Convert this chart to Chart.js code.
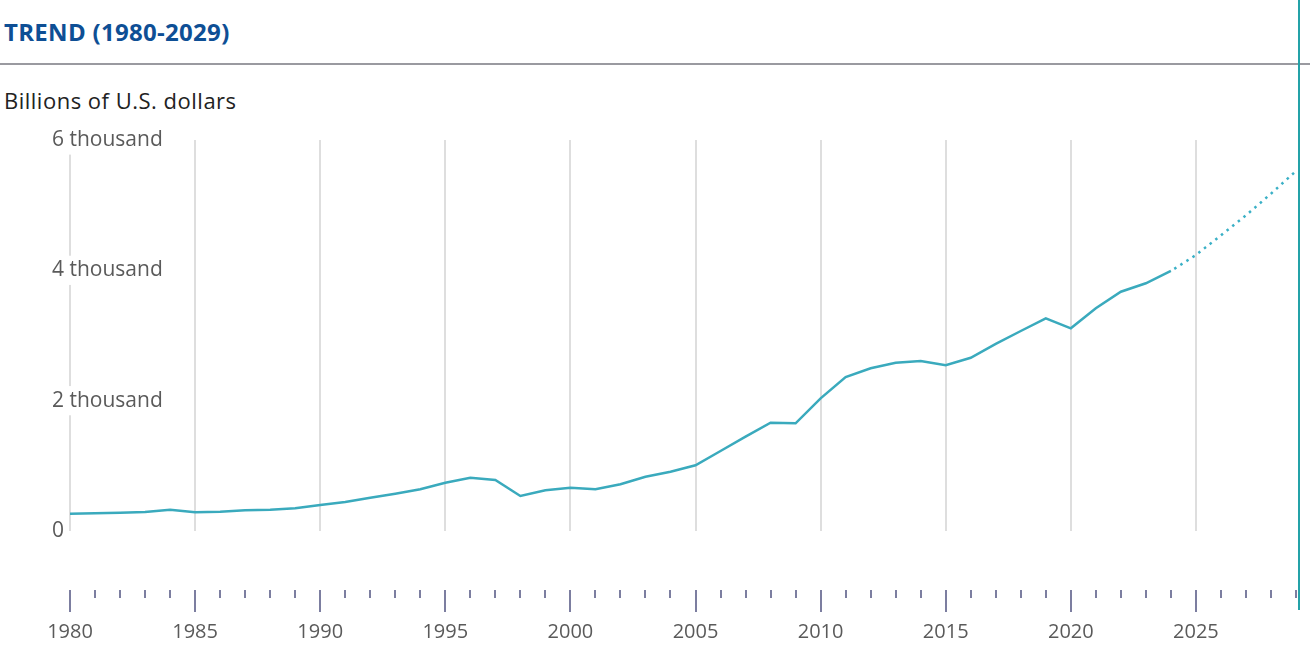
<!DOCTYPE html>
<html>
<head>
<meta charset="utf-8">
<script src="https://cdn.jsdelivr.net/npm/chart.js@4.4.1/dist/chart.umd.min.js"></script>
<style>
  body { margin: 0; background: #fff; font-family: "Open Sans", Lato, sans-serif; }
  #wrap { position: relative; width: 1310px; height: 660px; overflow: hidden; }
  #titulo { position: absolute; left: 4px; top: 18px; font-size: 24px; font-weight: 700; letter-spacing: 0.3px; color: #0e4f95; line-height: 1.2; white-space: nowrap; }
  #regua { position: absolute; left: 0; top: 63px; width: 1310px; height: 2px; background: #9a9aa0; }
  #subtitulo { position: absolute; left: 4px; top: 87px; font-size: 22px; letter-spacing: 0.5px; color: #222; line-height: 1.2; white-space: nowrap; }
  #marcador { position: absolute; left: 1298px; top: 0; width: 2px; height: 610px; background: #24a2a8; }
  #grafico { position: absolute; left: 0; top: 0; }
</style>
</head>
<body>
<div id="wrap">
  <div id="titulo">TREND (1980-2029)</div>
  <div id="regua"></div>
  <div id="subtitulo">Billions of U.S. dollars</div>
  <div id="marcador"></div>
  <canvas id="grafico" width="1310" height="660"></canvas>
</div>
<script>
// Anos e valores (bilhões de US$)
const anos = [1980, 1981, 1982, 1983, 1984, 1985, 1986, 1987, 1988, 1989,
              1990, 1991, 1992, 1993, 1994, 1995, 1996, 1997, 1998, 1999,
              2000, 2001, 2002, 2003, 2004, 2005, 2006, 2007, 2008, 2009,
              2010, 2011, 2012, 2013, 2014, 2015, 2016, 2017, 2018, 2019,
              2020, 2021, 2022, 2023, 2024];
const valores = [265, 272, 281, 292, 327, 287, 296, 318, 327, 348,
                 399, 445, 511, 572, 640, 741, 818, 783, 537, 625,
                 664, 640, 717, 833, 910, 1008, 1228, 1447, 1662, 1653,
                 2036, 2363, 2497, 2583, 2609, 2543, 2659, 2870, 3069, 3264,
                 3110, 3417, 3672, 3801, 3990];

// Projeção (linha pontilhada)
const anosProjecao = [2024, 2025, 2026, 2027, 2028, 2029];
const valoresProjecao = [3990, 4235, 4537, 4844, 5176, 5524];

const anoInicial = 1980;
const anoFinal = 2029;

const corLinha = "#3aaabd";
const corTraco = "#7c7ea0";

// Desenha os traços do eixo X (anuais e a cada 5 anos)
const tracosEixo = {
    id: "tracosEixo",
    afterDraw(chart) {
        const eixo = chart.scales.x;
        const ctx = chart.ctx;
        ctx.save();
        ctx.fillStyle = corTraco;
        for (let ano = anoInicial; ano <= anoFinal; ano++) {
            const px = Math.round(eixo.getPixelForValue(ano));
            const grande = ano % 5 === 0;
            ctx.fillRect(px - 1, eixo.top + 59, 2, grande ? 22 : 8);
        }
        ctx.restore();
    }
};

const ctx = document.getElementById("grafico").getContext("2d");

window.grafico = new Chart(ctx, {
    type: "line",
    data: {
        datasets: [{
            label: "Valor",
            data: anos.map((a, i) => ({ x: a, y: valores[i] })),
            borderColor: corLinha,
            borderWidth: 2.5,
            pointRadius: 0,
            tension: 0
        }, {
            label: "Projeção",
            data: anosProjecao.map((a, i) => ({ x: a, y: valoresProjecao[i] })),
            borderColor: "#3ab0c6",
            borderWidth: 2.5,
            borderDash: [2.5, 4.7],
            borderDashOffset: -4,
            pointRadius: 0,
            tension: 0
        }]
    },
    options: {
        responsive: false,
        animation: false,
        layout: { padding: { left: 70, top: 140, right: 14, bottom: 17 } },
        plugins: {
            legend: { display: false },
            tooltip: { enabled: false }
        },
        scales: {
            x: {
                type: "linear",
                min: anoInicial,
                max: anoFinal,
                border: { display: false },
                grid: { color: "#dedede", lineWidth: 2, drawTicks: false },
                afterFit: (s) => { s.height = 112; s.paddingLeft = 0; s.paddingRight = 0; },
                ticks: {
                    stepSize: 5,
                    includeBounds: false,
                    padding: 89,
                    color: "#5a5a5a",
                    font: { family: "Open Sans", size: 20 },
                    maxRotation: 0,
                    callback: (v) => String(v)
                }
            },
            y: {
                min: 0,
                max: 6000,
                border: { display: false },
                grid: { display: false },
                afterFit: (s) => { s.width = 0; s.paddingTop = 0; s.paddingBottom = 0; },
                ticks: {
                    stepSize: 2000,
                    mirror: true,
                    padding: -18,
                    z: 1,
                    color: "#5a5a5a",
                    font: { family: "Open Sans", size: 21 },
                    showLabelBackdrop: true,
                    backdropColor: "#ffffff",
                    backdropPadding: { x: 0, y: 2 },
                    callback: (v) => v === 0 ? "0" : (v / 1000) + " thousand"
                }
            }
        }
    },
    plugins: [tracosEixo]
});
</script>
</body>
</html>
